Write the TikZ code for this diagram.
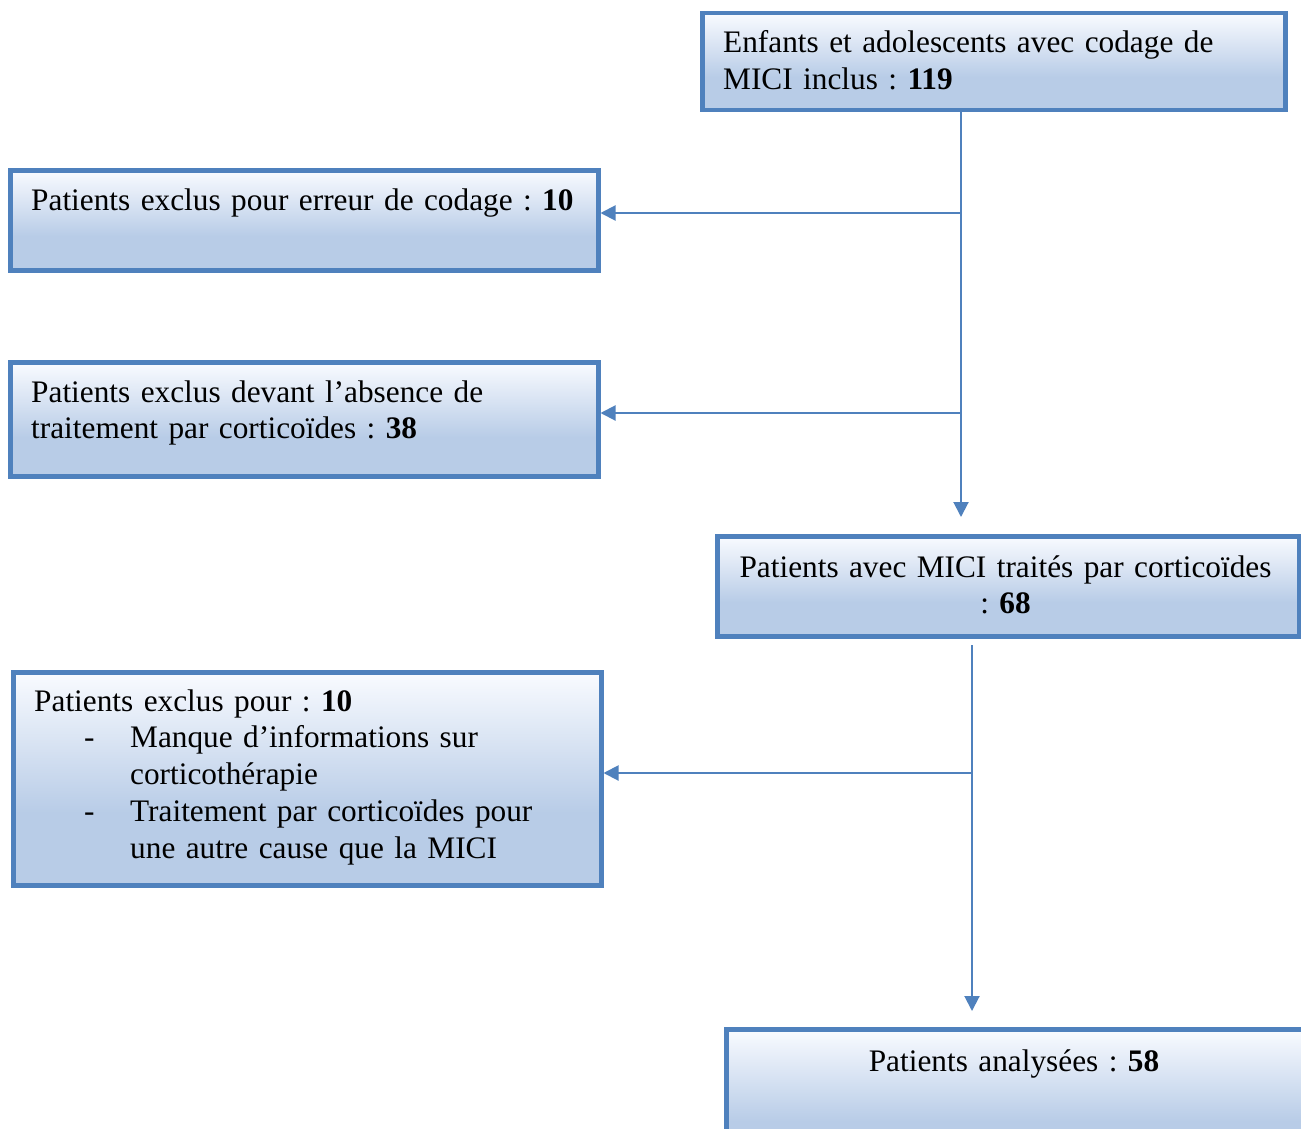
\documentclass[tikz,border=0pt]{standalone}
\usepackage{fontspec}
\setmainfont{Liberation Serif}
\usetikzlibrary{arrows.meta}
\definecolor{edgeblue}{RGB}{79,129,189}
\definecolor{fillblue}{RGB}{184,204,231}
\definecolor{fillwhite}{RGB}{249,251,255}
\pgfdeclareverticalshading{boxshade}{100bp}{color(0bp)=(fillblue); color(25bp)=(fillblue); color(42bp)=(fillblue); color(75bp)=(fillwhite); color(100bp)=(fillwhite)}
\begin{document}
\frenchspacing
\begin{tikzpicture}[x=1pt,y=1pt,
  box/.style={draw=edgeblue, line width=4.5pt, shading=boxshade, rectangle, inner sep=0pt, anchor=north west},
  txt/.style={inner sep=0pt, anchor=base west, text width=#1, align=left, font=\fontsize{31.3}{36.8}\selectfont\frenchspacing},
  ctxt/.style={inner sep=0pt, anchor=base, text width=#1, align=center, font=\fontsize{31.3}{36.8}\selectfont\frenchspacing},
  conn/.style={draw=edgeblue, line width=2pt},
  arr/.style={conn, -{Triangle[length=15pt,width=15pt]}}]
\useasboundingbox (0,0) rectangle (1301,-1129);
\clip (0,0) rectangle (1301,-1129);
\fill[white] (0,0) rectangle (1301,-1129);

% boxes
\node[box, minimum width=583pt, minimum height=97pt] (b1) at (700,-11) {};
\node[box, minimum width=588pt, minimum height=100pt] (b2) at (8,-168) {};
\node[box, minimum width=588pt, minimum height=114pt] (b3) at (8,-360) {};
\node[box, minimum width=582pt, minimum height=100pt] (b4) at (715,-534) {};
\node[box, minimum width=588pt, minimum height=213pt] (b5) at (11,-670) {};
\node[box, minimum width=600pt, minimum height=140pt] (b6) at (724,-1027) {};

% texts
\node[txt=570pt] (t1) at (723,-53) {Enfants et adolescents avec codage de\\MICI inclus : \textbf{119}};
\node[txt=570pt] (t2) at (31,-210) {Patients exclus pour erreur de codage : \textbf{10}};
\node[txt=570pt] (t3) at (31,-402) {Patients exclus devant l’absence de\\traitement par corticoïdes : \textbf{38}};
\node[ctxt=570pt] (t4) at (1005.5,-577) {Patients avec MICI traités par corticoïdes\\: \textbf{68}};
\node[txt=570pt] (t5) at (34,-711) {Patients exclus pour : \textbf{10}\\
\hspace*{50pt}\makebox[46pt][l]{-}Manque d’informations sur\\
\hspace*{96pt}corticothérapie\\
\hspace*{50pt}\makebox[46pt][l]{-}Traitement par corticoïdes pour\\
\hspace*{96pt}une autre cause que la MICI};
\node[ctxt=570pt] (t6) at (1014,-1071) {Patients analysées : \textbf{58}};

% connectors
\coordinate (j1) at (961,-213);
\coordinate (j2) at (961,-413);
\coordinate (a1) at (961,-517);
\coordinate (s2) at (972,-645);
\coordinate (j3) at (972,-773);
\coordinate (a2) at (972,-1011);

\draw[arr] (b1.south -| a1) -- (a1);
\draw[arr] (j1) -- (j1 -| b2.east);
\draw[arr] (j2) -- (j2 -| b3.east);
\draw[arr] (s2) -- (a2);
\draw[arr] (j3) -- (j3 -| b5.east);
\end{tikzpicture}
\end{document}
